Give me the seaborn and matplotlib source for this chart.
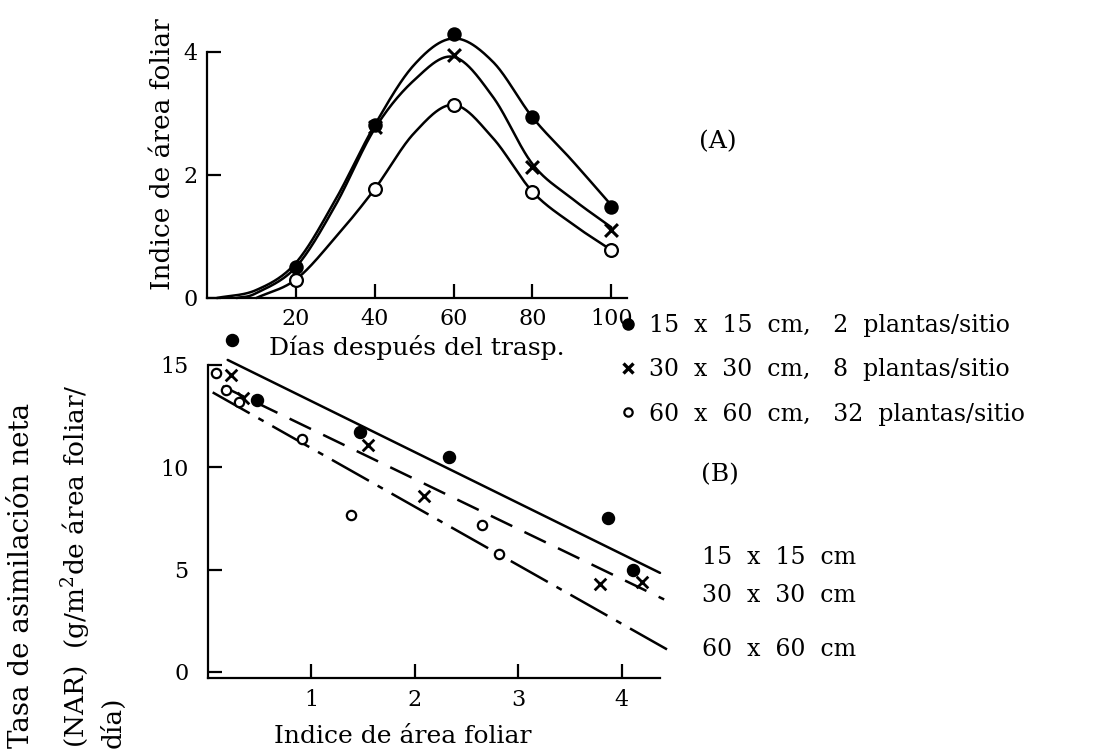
import numpy as np
import matplotlib
matplotlib.use("Agg")
import matplotlib.pyplot as plt
import seaborn as sns
from matplotlib.lines import Line2D

# ---------------- data ----------------
# Panel A: leaf area index vs days after transplant
days = [20, 40, 60, 80, 100]
lai_15 = [0.50, 2.81, 4.30, 2.94, 1.48]
lai_30 = [0.50, 2.78, 3.95, 2.13, 1.10]
lai_60 = [0.30, 1.77, 3.14, 1.73, 0.78]

# hand-drawn smooth curves of panel A (knots)
curve15_x = [0, 10, 20, 30, 40, 50, 60, 70, 80, 90, 100]
curve15_y = [0.0, 0.13, 0.57, 1.59, 2.81, 3.79, 4.22, 3.84, 2.94, 2.24, 1.51]
curve30_x = [5, 10, 20, 30, 40, 50, 60, 70, 80, 90, 100]
curve30_y = [0.0, 0.08, 0.50, 1.50, 2.75, 3.54, 3.92, 3.27, 2.18, 1.62, 1.15]
curve60_x = [10, 20, 30, 40, 50, 60, 70, 80, 90, 100]
curve60_y = [0.0, 0.30, 0.98, 1.77, 2.68, 3.14, 2.60, 1.73, 1.21, 0.78]

# Panel B: NAR vs leaf area index
lai15_b = [0.23, 0.47, 1.47, 2.33, 3.87, 4.11]
nar15_b = [16.2, 13.3, 11.7, 10.5, 7.5, 5.0]
lai30_b = [0.22, 0.34, 1.55, 2.09, 3.79, 4.20]
nar30_b = [14.5, 13.4, 11.1, 8.6, 4.3, 4.4]
lai60_b = [0.08, 0.17, 0.30, 0.91, 1.38, 2.65, 2.81]
nar60_b = [14.6, 13.8, 13.2, 11.4, 7.65, 7.2, 5.75]

# regression lines of panel B
line_names = ["15  x  15  cm", "30  x  30  cm", "60  x  60  cm"]
line_x0 = [0.19, 0.14, 0.045]
line_x1 = [4.37, 4.41, 4.50]
line_a = [15.72, 14.30, 13.79]
line_b = [-2.49, -2.44, -2.86]

legend_labels = ["15  x  15  cm,   2  plantas/sitio",
                 "30  x  30  cm,   8  plantas/sitio",
                 "60  x  60  cm,   32  plantas/sitio"]

# ---------------- style ----------------
sns.set_style("ticks")
plt.rcParams["font.family"] = ["DejaVu Serif"]
plt.rcParams["mathtext.fontset"] = "dejavuserif"
plt.rcParams["axes.linewidth"] = 1.6
for k in ["text.color", "axes.labelcolor", "xtick.color", "ytick.color",
          "axes.edgecolor"]:
    plt.rcParams[k] = "black"

fig = plt.figure(figsize=(10.96, 7.51), dpi=100)
ax1 = fig.add_axes([0.1889, 0.6032, 0.3832, 0.3276])
ax2 = fig.add_axes([0.1898, 0.0972, 0.4124, 0.4168])


def catmull(xk, yk, n=40):
    pts = np.column_stack([xk, yk]).astype(float)
    P = np.vstack([2 * pts[0] - pts[1], pts, 2 * pts[-1] - pts[-2]])
    t = np.linspace(0, 1, n, endpoint=False)[:, None]
    out = []
    for i in range(1, len(P) - 2):
        p0, p1, p2, p3 = P[i - 1], P[i], P[i + 1], P[i + 2]
        seg = 0.5 * (2 * p1 + (-p0 + p2) * t + (2 * p0 - 5 * p1 + 4 * p2 - p3) * t ** 2
                     + (-p0 + 3 * p1 - 3 * p2 + p3) * t ** 3)
        out.append(seg)
    out.append(P[-2][None])
    return np.vstack(out)


LW = 1.8
# ---------------- panel A ----------------
for cx, cy in [(curve15_x, curve15_y), (curve30_x, curve30_y), (curve60_x, curve60_y)]:
    c = catmull(cx, cy)
    sns.lineplot(x=c[:, 0], y=c[:, 1], ax=ax1, color="black", lw=LW, sort=False,
                 estimator=None, clip_on=False)

sns.scatterplot(x=days, y=lai_15, ax=ax1, marker="o", s=85, color="black",
                edgecolor="black", linewidth=1.2, zorder=4, clip_on=False)
sns.scatterplot(x=days[1:], y=lai_30[1:], ax=ax1, marker="x", s=85, color="black",
                linewidth=2.2, zorder=4, clip_on=False)
sns.scatterplot(x=days, y=lai_60, ax=ax1, marker="o", s=85, color="white",
                edgecolor="black", linewidth=1.6, zorder=4, clip_on=False)

ax1.set_xlim(-2.5, 104)
ax1.set_ylim(0, 4)
ax1.set_xticks([20, 40, 60, 80, 100])
ax1.set_yticks([0, 2, 4])
ax1.tick_params(direction="in", length=10, width=1.6, labelsize=16, pad=7)
ax1.set_xlabel("Días después del trasp.", fontsize=18, labelpad=4)
ax1.set_ylabel("Indice de área foliar", fontsize=19)
ax1.yaxis.set_label_coords(-0.076, 0.585)
sns.despine(ax=ax1)

# ---------------- panel B ----------------
styles = [dict(ls="-"), dict(dashes=(9.5, 5.4)), dict(dashes=(17, 4, 2.4, 4))]
for x0, x1, a, b, st in zip(line_x0, line_x1, line_a, line_b, styles):
    xs = np.array([x0, x1])
    ax2.plot(xs, a + b * xs, color="black", lw=LW, clip_on=False, **st)

sns.scatterplot(x=lai15_b, y=nar15_b, ax=ax2, marker="o", s=75, color="black",
                edgecolor="black", linewidth=1.0, zorder=4, clip_on=False)
sns.scatterplot(x=lai30_b, y=nar30_b, ax=ax2, marker="x", s=70, color="black",
                linewidth=2.0, zorder=4, clip_on=False)
sns.scatterplot(x=lai60_b, y=nar60_b, ax=ax2, marker="o", s=45, color="white",
                edgecolor="black", linewidth=1.6, zorder=4, clip_on=False)

ax2.set_xlim(0, 4.37)
ax2.set_ylim(-0.3, 15.0)
ax2.set_xticks([1, 2, 3, 4])
ax2.set_yticks([0, 5, 10, 15])
ax2.tick_params(axis="y", direction="in", length=10, width=1.6, labelsize=16, pad=14)
ax2.tick_params(axis="x", direction="in", length=10, width=1.6, labelsize=16, pad=8)
ax2.set_xlabel("Indice de área foliar", fontsize=18)
ax2.xaxis.set_label_coords(0.43, -0.15)
sns.despine(ax=ax2)

# line labels
for name, yy in zip(line_names, [558, 596, 650]):
    fig.text(702 / 1096, 1 - yy / 751, name, fontsize=17, ha="left", va="center")

# panel tags
fig.text(718 / 1096, 1 - 142 / 751, "(A)", fontsize=18, ha="center", va="center")
fig.text(720 / 1096, 1 - 475 / 751, "(B)", fontsize=18, ha="center", va="center")

# multi-line y label of panel B
fig.text(22 / 1096, 0.004, "Tasa de asimilación neta", rotation=90, fontsize=20,
         ha="center", va="bottom")
fig.text(76 / 1096, 0.004, r"(NAR)  (g/m$^{2}$de área foliar/", rotation=90,
         fontsize=19, ha="center", va="bottom")
fig.text(113 / 1096, 0.004, "día)", rotation=90, fontsize=19, ha="center",
         va="bottom")

# legend
handles = [
    Line2D([], [], ls="none", marker="o", ms=8, color="black"),
    Line2D([], [], ls="none", marker="x", ms=7, mew=2.4, color="black"),
    Line2D([], [], ls="none", marker="o", ms=6, mfc="white", mec="black", mew=1.6),
]
fig.legend(handles, legend_labels, loc="upper left",
           bbox_to_anchor=(617 / 1096, 1 - 314 / 751), frameon=False,
           fontsize=17, handlelength=0.9, handletextpad=0.45,
           labelspacing=0.9, borderpad=0, borderaxespad=0)

fig.savefig("out.png", dpi=100)
